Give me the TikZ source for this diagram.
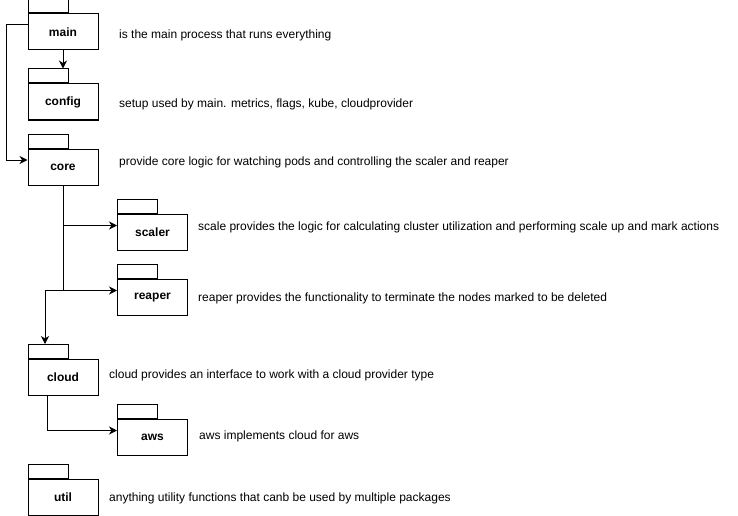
\documentclass[tikz,border=0pt]{standalone}
\usepackage{fontspec}
\setmainfont{Liberation Sans}
\usetikzlibrary{arrows.meta}
\begin{document}
\begin{tikzpicture}[x=1pt,y=-1pt,
  pkg/.style={draw, line width=1pt, minimum width=70pt, minimum height=36pt, inner sep=0pt,
    font=\fontsize{12}{14}\selectfont\bfseries},
  pkgtab/.style={draw, line width=1pt, minimum width=40pt, minimum height=14pt, inner sep=0pt, anchor=south west},
  desc/.style={anchor=west, inner sep=0pt, font=\fontsize{12}{14}\selectfont},
  arr/.style={line width=1pt, -{Stealth[length=8pt,width=8pt,inset=2.5pt]}}]
\useasboundingbox (0,0) rectangle (738,516);
% packages
\node[pkg] (main)   at (63,32)    {main};
\node[pkg] (config) at (63,102)   {config};
\node[pkg] (core)   at (63,167)   {core};
\node[pkg] (scaler) at (152.5,232.5) {scaler};
\node[pkg] (reaper) at (152.5,297.5) {reaper};
\node[pkg] (cloud)  at (63,377.5) {cloud};
\node[pkg] (aws)    at (152.5,437.5) {aws};
\node[pkg] (util)   at (63,497.5) {util};
\foreach \n in {main,config,core,scaler,reaper,cloud,aws,util}
  \node[pkgtab] (\n tab) at (\n.north west) {};
% descriptions
\node[desc] (dmain)   at (119,35)  {is the main process that runs everything};
\node[desc] (dconfig) at (119,104) {setup used by main. metrics, flags, kube, cloudprovider};
\node[desc] (dcore)   at (119,162) {provide core logic for watching pods and controlling the scaler and reaper};
\node[desc] (dscaler) at (198,227) {scale provides the logic for calculating cluster utilization and performing scale up and mark actions};
\node[desc] (dreaper) at (198,298) {reaper provides the functionality to terminate the nodes marked to be deleted};
\node[desc] (dcloud)  at (109,375) {cloud provides an interface to work with a cloud provider type};
\node[desc] (daws)    at (199,436) {aws implements cloud for aws};
\node[desc] (dutil)   at (109,498) {anything utility functions that canb be used by multiple packages};
% connectors
\draw[arr] (main.south) -- (main.south |- configtab.north);
\draw[arr] ([yshift=7pt]main.west) -- ++(-21,0) |- ([yshift=7pt]core.west);
\draw[arr] (core.south) |- ([yshift=7pt]scaler.west);
\draw[arr] (core.south) |- ([yshift=7pt]reaper.west);
\coordinate (cbend) at (45,290.3);
\draw[arr] (core.south) |- (cbend) -- (cbend |- cloudtab.north);
\draw[arr] ([xshift=-16pt]cloud.south) |- ([yshift=7pt]aws.west);
\end{tikzpicture}
\end{document}
